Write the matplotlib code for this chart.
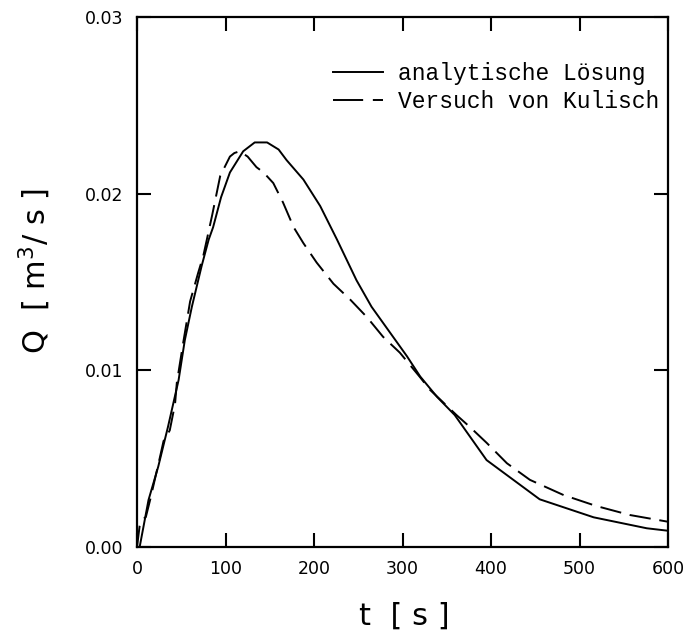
import matplotlib
matplotlib.use("Agg")
import matplotlib.pyplot as plt
from matplotlib.lines import Line2D

# analytische Lösung
t_analytisch = [0, 3, 13, 24, 35, 47, 54, 62, 73, 81, 86, 95, 105, 120, 133, 147, 160, 169, 188,
                207, 226, 248, 265, 285, 305, 320, 339, 359, 395, 455, 516, 576, 600]
q_analytisch = [0.0, 0.0, 0.00266, 0.00455, 0.0068, 0.00945, 0.0117, 0.0136, 0.0159, 0.0174,
                0.0181, 0.0198, 0.0212, 0.0224, 0.0229, 0.0229, 0.0225, 0.0219, 0.0208,
                0.0193, 0.0174, 0.0151, 0.0136, 0.0122, 0.0108, 0.00965, 0.0085, 0.00747,
                0.00492, 0.0027, 0.00168, 0.00106, 0.00092]

# Versuch von Kulisch
t_versuch = [0, 3, 5, 10, 15, 26, 30, 37, 43, 45, 52, 60, 69, 75, 85, 94, 101, 105, 110, 116, 125,
             135, 143, 154, 165, 177, 188, 203, 222, 241, 260, 278, 297, 320, 331, 361, 376,
             395, 418, 444, 482, 519, 557, 600]
q_versuch = [0.0, 0.0012, 0.0015, 0.0017, 0.0027, 0.0051, 0.006, 0.0066, 0.0081, 0.0093, 0.0115,
             0.0139, 0.0155, 0.0165, 0.0188, 0.021, 0.0217, 0.0221, 0.0223, 0.0224, 0.0221,
             0.0215, 0.0212, 0.0206, 0.0195, 0.0181, 0.0172, 0.0161, 0.0149, 0.0140, 0.0130,
             0.0119, 0.0110, 0.0096, 0.0089, 0.00747, 0.0068, 0.0059, 0.00474, 0.0038,
             0.00294, 0.00232, 0.00181, 0.00143]

x_ticks = [0, 100, 200, 300, 400, 500, 600]
y_ticks = [0.00, 0.01, 0.02, 0.03]
y_ticklabels = ["0.00", "0.01", "0.02", "0.03"]

label_analytisch = "analytische Lösung"
label_versuch = "Versuch von Kulisch"

W, H = 688, 641
fig = plt.figure(figsize=(W / 100, H / 100), dpi=100)
ax = fig.add_axes([137 / W, 1 - 547 / H, (668 - 137) / W, (547 - 17) / H])

ax.plot(t_analytisch, q_analytisch, color="black", lw=1.4, solid_joinstyle="round")
ax.plot(t_versuch, q_versuch, color="black", lw=1.4, linestyle=(0, (11, 4.5)))

ax.set_xlim(0, 600)
ax.set_ylim(0, 0.03)
ax.set_xticks(x_ticks)
ax.set_yticks(y_ticks)
ax.set_yticklabels(y_ticklabels)
ax.tick_params(direction="in", length=10, width=1.5, top=True, right=True,
               labelsize=12.5)
ax.tick_params(axis="x", pad=9)
ax.tick_params(axis="y", pad=10)
for sp in ax.spines.values():
    sp.set_linewidth(1.6)

ax.set_xlabel("t  [ s ]", fontsize=22)
ax.set_ylabel("Q  [ m$^3$/ s ]", fontsize=22)
ax.xaxis.set_label_coords((404 - 137) / 531, (547 - 602) / 530)
ax.yaxis.set_label_coords((53 - 137) / 531, (547 - 271) / 530)

handles = [Line2D([], [], color="black", lw=1.4),
           Line2D([], [], color="black", lw=1.4, linestyle=(0, (15.5, 5)))]
leg = ax.legend(handles, [label_analytisch, label_versuch], loc="upper left",
                bbox_to_anchor=((333 - 137) / 531, (547 - 62) / 530), frameon=False,
                borderaxespad=0, borderpad=0,
                handlelength=2.18, handletextpad=0.65, labelspacing=0.22,
                prop={"family": "Liberation Mono", "size": 16.5})

fig.savefig("out.png", dpi=100)
